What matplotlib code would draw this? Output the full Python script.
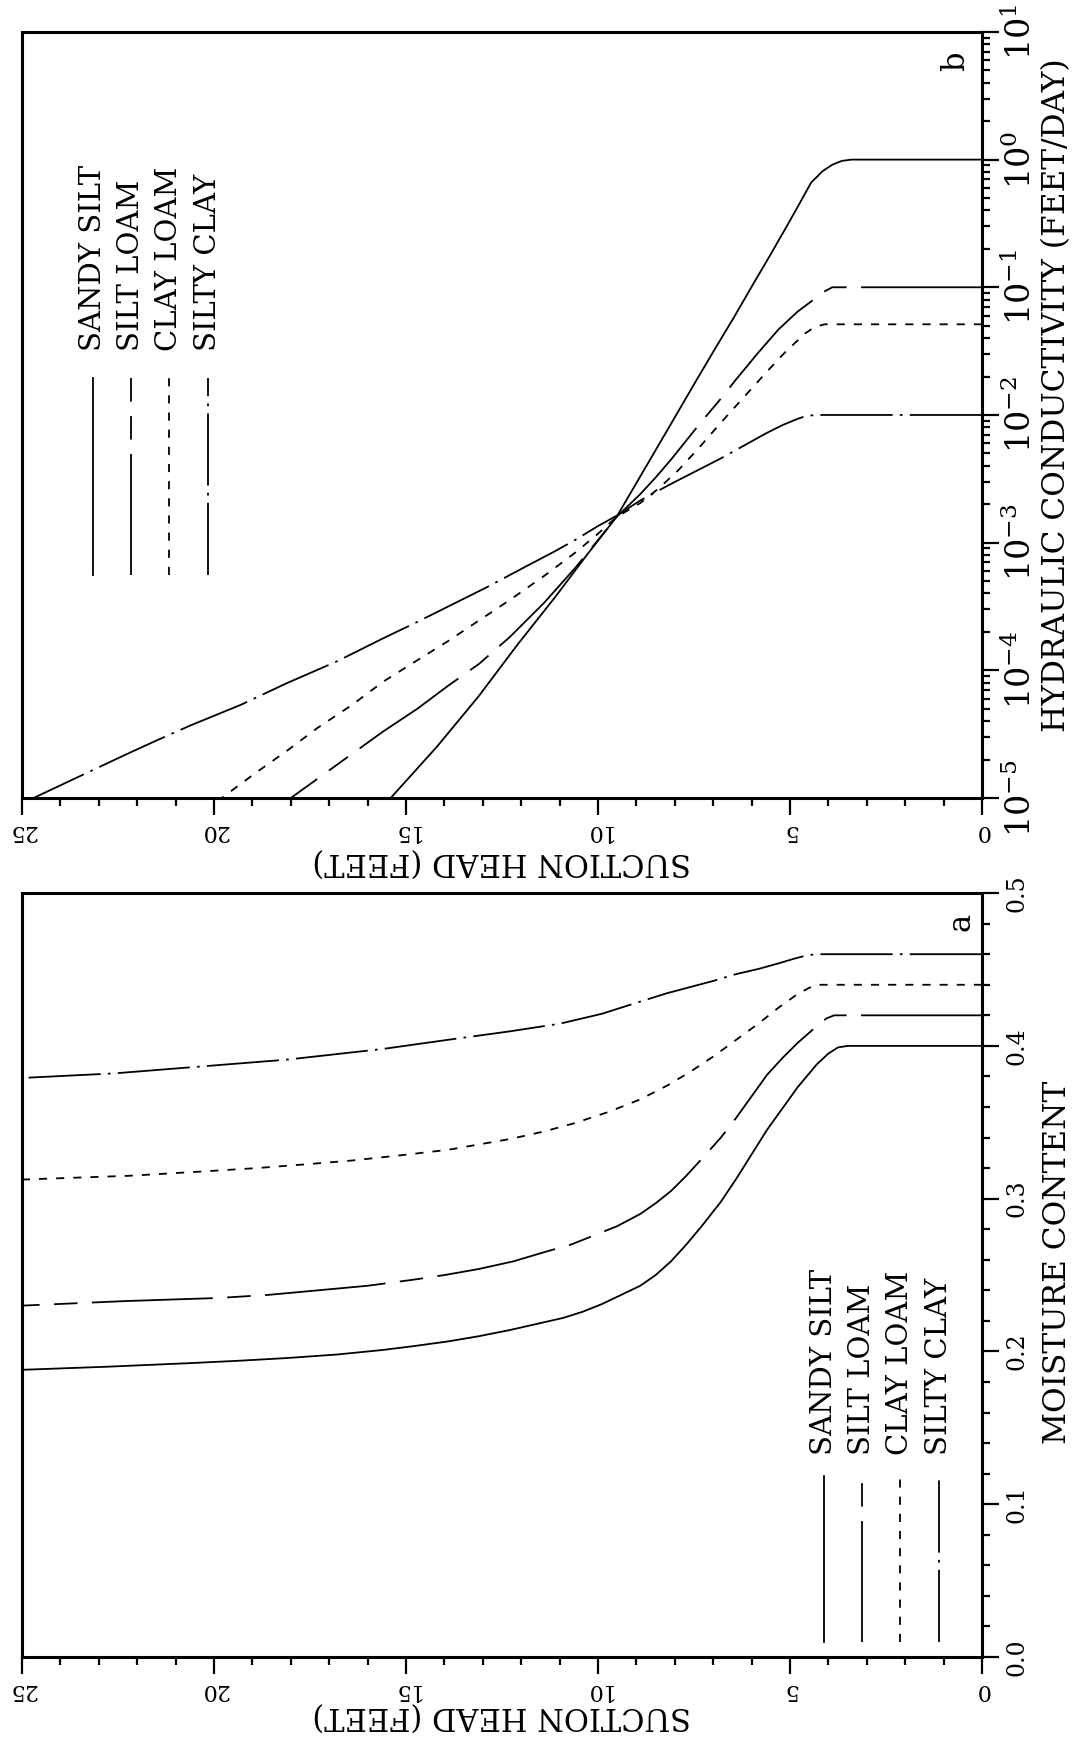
import numpy as np
import matplotlib.pyplot as plt
from matplotlib.ticker import (MultipleLocator, LogLocator, LogFormatterMathtext,
                               NullFormatter, FormatStrFormatter)

plt.rcParams['font.family'] = ['DejaVu Serif']
plt.rcParams['mathtext.fontset'] = 'dejavuserif'

soils = ["SANDY SILT", "SILT LOAM", "CLAY LOAM", "SILTY CLAY"]

# (a) suction head (ft) vs moisture content
ss_h_a = [0, 3.5, 3.75, 4.0, 4.3, 4.8, 5.2, 5.6, 6.0, 6.4, 6.8, 7.3, 7.7, 8.1, 8.5, 8.9, 9.4, 9.9,
          10.4, 10.9, 11.6, 12.3, 13.1, 13.9, 14.8, 15.6, 16.8, 18.1, 19.3, 20.6, 22.8, 25]
ss_theta = [0.40, 0.40, 0.399, 0.395, 0.388, 0.373, 0.359, 0.345, 0.329, 0.313, 0.298, 0.282,
            0.27, 0.259, 0.25, 0.243, 0.237, 0.231, 0.226, 0.222, 0.218, 0.214, 0.21, 0.2066,
            0.2035, 0.201, 0.198, 0.1957, 0.194, 0.1924, 0.19, 0.188]
sl_h_a = [0, 3.85, 4.05, 4.3, 4.8, 5.2, 5.6, 6.0, 6.4, 6.8, 7.3, 7.7, 8.1, 8.5, 8.9, 9.5, 10.1,
          10.7, 11.4, 12.2, 13.1, 14.0, 14.8, 16.0, 17.3, 18.6, 19.9, 22.3, 25]
sl_theta = [0.42, 0.42, 0.418, 0.413, 0.402, 0.392, 0.381, 0.367, 0.353, 0.34, 0.326, 0.315,
            0.305, 0.297, 0.29, 0.282, 0.276, 0.27, 0.265, 0.259, 0.254, 0.25, 0.247, 0.243,
            0.24, 0.237, 0.235, 0.233, 0.23]
cl_h_a = [0, 4.3, 4.5, 4.8, 5.3, 5.8, 6.4, 7.0, 7.6, 8.2, 8.9, 9.7, 10.6, 11.4, 12.3, 13.1, 13.9,
          15.1, 16.4, 17.6, 18.9, 20.5, 22.2, 25]
cl_theta = [0.44, 0.44, 0.438, 0.434, 0.425, 0.415, 0.404, 0.393, 0.383, 0.374, 0.365, 0.357,
            0.3495, 0.344, 0.339, 0.3355, 0.332, 0.3285, 0.325, 0.3225, 0.32, 0.3175, 0.315, 0.3125]
sc_h_a = [0, 4.35, 4.6, 4.9, 5.3, 5.8, 6.4, 7.0, 7.6, 8.2, 8.9, 9.9, 11.0, 12.3, 13.9, 15.6, 18.1,
          20.6, 22.6, 25]
sc_theta = [0.46, 0.46, 0.459, 0.457, 0.454, 0.4505, 0.447, 0.4425, 0.4385, 0.4345, 0.429, 0.421,
            0.4145, 0.4095, 0.404, 0.398, 0.391, 0.386, 0.382, 0.379]

# (b) suction head (ft) vs log10 hydraulic conductivity (ft/day)
ss_h_b = [0, 3.4, 3.65, 3.9, 4.15, 4.45, 4.8, 5.1, 5.5, 5.95, 6.45, 6.95, 7.5, 8.1, 8.8, 9.52,
          10.3, 11.1, 12.1, 13.1, 14.2, 15.4]
ss_logk = [0, 0, -0.01, -0.04, -0.09, -0.18, -0.37, -0.53, -0.74, -0.97, -1.23, -1.48, -1.76,
           -2.07, -2.43, -2.8, -3.1, -3.42, -3.8, -4.2, -4.6, -5.0]
sl_h_b = [0, 3.9, 4.15, 4.4, 4.8, 5.3, 5.85, 6.4, 6.85, 7.3, 7.7, 8.1, 8.5, 8.9, 9.52, 10.0,
          10.6, 11.4, 12.3, 13.1, 13.9, 14.7, 15.6, 16.8, 18.0]
sl_logk = [-1, -1, -1.04, -1.1, -1.19, -1.33, -1.52, -1.72, -1.89, -2.05, -2.2, -2.35, -2.49,
           -2.62, -2.8, -2.98, -3.2, -3.47, -3.74, -3.95, -4.12, -4.3, -4.48, -4.74, -5.0]
cl_h_b = [0, 4.1, 4.35, 4.6, 5.1, 5.6, 6.2, 6.8, 7.35, 7.9, 8.4, 8.9, 9.52, 10.0, 10.6, 11.4,
          12.3, 13.1, 13.9, 14.7, 15.6, 16.4, 17.3, 18.1, 18.9, 19.8]
cl_logk = [-1.29, -1.29, -1.31, -1.36, -1.5, -1.66, -1.86, -2.06, -2.25, -2.43, -2.57, -2.69,
           -2.8, -2.93, -3.08, -3.26, -3.45, -3.61, -3.77, -3.92, -4.09, -4.27, -4.45, -4.63,
           -4.8, -5.0]
sc_h_b = [0, 4.35, 4.6, 4.8, 5.2, 5.6, 6.2, 6.8, 7.45, 8.1, 8.9, 9.52, 10.0, 10.6, 11.2, 11.9,
          12.9, 13.9, 14.7, 15.6, 16.8, 18.1, 19.3, 20.6, 21.5, 22.3, 23.5, 24.7]
sc_logk = [-2, -2, -2.01, -2.03, -2.08, -2.14, -2.24, -2.34, -2.44, -2.54, -2.67, -2.79, -2.87,
           -2.98, -3.08, -3.19, -3.35, -3.5, -3.62, -3.75, -3.93, -4.1, -4.27, -4.43, -4.55,
           -4.66, -4.83, -5.0]

styles = ['-', (0, (67, 8, 13, 8)), (0, (4.5, 5)), (0, (40, 4, 1.5, 4))]
LW = 1.3

fig = plt.figure(figsize=(10.75, 17.45), dpi=100)
axb = fig.add_axes([0.0205, 0.5427, 0.893, 0.439])
axa = fig.add_axes([0.0205, 0.0504, 0.893, 0.4378])


def setup(ax):
    ax.set_xlim(25, 0)
    ax.xaxis.set_major_locator(MultipleLocator(5))
    ax.xaxis.set_minor_locator(MultipleLocator(1))
    ax.yaxis.tick_right()
    for s in ax.spines.values():
        s.set_linewidth(2.2)
    ax.tick_params(which='both', direction='out', width=1.6, top=False, left=False)
    ax.tick_params(which='major', length=12)
    ax.tick_params(which='minor', length=6)
    ax.tick_params(axis='x', labelrotation=180, labelsize=16, pad=4)
    ax.set_xlabel("SUCTION HEAD (FEET)", rotation=180, fontsize=22)
    ax.yaxis.set_label_position('right')


# panel b: conductivity
setup(axb)
axb.xaxis.set_label_coords(0.5, -0.062)
for h, lk, st in zip([ss_h_b, sl_h_b, cl_h_b, sc_h_b], [ss_logk, sl_logk, cl_logk, sc_logk], styles):
    axb.plot(h, np.power(10.0, lk), color='black', lw=LW, linestyle=st)
axb.set_yscale('log')
axb.set_ylim(1e-5, 1e1)
axb.yaxis.set_major_locator(LogLocator(base=10, numticks=10))
axb.yaxis.set_minor_locator(LogLocator(base=10, subs=np.arange(2, 10), numticks=20))
axb.yaxis.set_major_formatter(LogFormatterMathtext())
axb.yaxis.set_minor_formatter(NullFormatter())
axb.tick_params(axis='y', labelrotation=90, labelsize=24, pad=4)
axb.set_ylabel("HYDRAULIC CONDUCTIVITY (FEET/DAY)", rotation=90, fontsize=22.5)
axb.yaxis.set_label_coords(1.062, 0.526)
axb.text(0.972, 0.962, "b", rotation=90, fontsize=22, ha='center', va='center',
         transform=axb.transAxes)

# panel a: moisture content
setup(axa)
axa.xaxis.set_label_coords(0.5, -0.056)
for h, th, st in zip([ss_h_a, sl_h_a, cl_h_a, sc_h_a], [ss_theta, sl_theta, cl_theta, sc_theta], styles):
    axa.plot(h, th, color='black', lw=LW, linestyle=st)
axa.set_ylim(0, 0.5)
axa.yaxis.set_major_locator(MultipleLocator(0.1))
axa.yaxis.set_minor_locator(MultipleLocator(0.02))
axa.yaxis.set_major_formatter(FormatStrFormatter('%.1f'))
axa.tick_params(axis='y', labelrotation=90, labelsize=17, pad=5)
axa.set_ylabel("MOISTURE CONTENT", rotation=90, fontsize=22.5)
axa.yaxis.set_label_coords(1.062, 0.516)
axa.text(0.978, 0.962, "a", rotation=90, fontsize=22, ha='center', va='center',
         transform=axa.transAxes)


# hand-made rotated legends
def legend(ax, xs, y0, y1, ytext):
    for x, name, st in zip(xs, soils, styles):
        ax.plot([x, x], [y0, y1], color='black', lw=LW, linestyle=st, transform=ax.transAxes)
        ax.text(x, ytext, name, rotation=90, fontsize=21, ha='center', va='bottom',
                transform=ax.transAxes)


legend(axb, [0.074, 0.114, 0.153, 0.194], 0.291, 0.548, 0.584)
legend(axa, [0.835, 0.875, 0.915, 0.955], 0.02, 0.237, 0.264)

for ax in (axa, axb):
    for lab in ax.get_yticklabels():
        lab.set_va('center')

fig.savefig('out.png', dpi=100)
